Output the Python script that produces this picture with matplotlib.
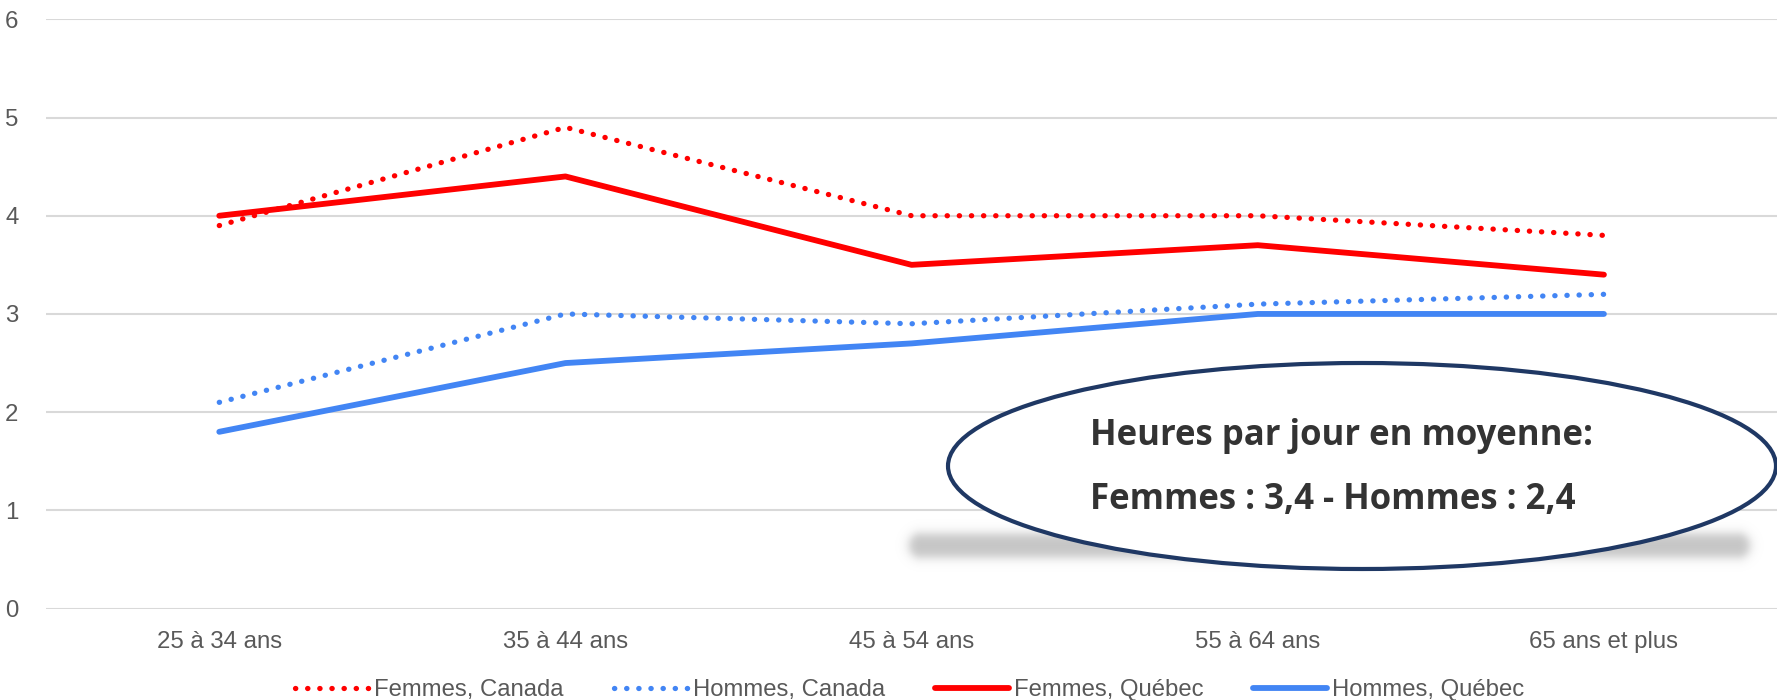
import numpy as np
import matplotlib
matplotlib.use("Agg")
import matplotlib.pyplot as plt
from matplotlib.patches import Ellipse

plt.rcParams['font.family'] = ['Liberation Sans', 'DejaVu Sans']

categories = ["25 à 34 ans", "35 à 44 ans", "45 à 54 ans", "55 à 64 ans", "65 ans et plus"]
femmes_canada = [3.9, 4.9, 4.0, 4.0, 3.8]
hommes_canada = [2.1, 3.0, 2.9, 3.1, 3.2]
femmes_quebec = [4.0, 4.4, 3.5, 3.7, 3.4]
hommes_quebec = [1.8, 2.5, 2.7, 3.0, 3.0]
note_lines = ["Heures par jour en moyenne:", "Femmes : 3,4 - Hommes : 2,4"]

red = "#FF0000"
blue = "#4285F4"
grey_txt = "#595959"

fig = plt.figure(figsize=(17.77, 7.0), dpi=100)
ax = fig.add_axes([0.026, 0.1306, 0.974, 0.8418])

x = np.arange(len(categories))
dots = (0, (0.05, 2.25))
ax.plot(x, femmes_canada, color=red, lw=3.8, ls=dots, dash_capstyle="round", label="Femmes, Canada")
ax.plot(x, hommes_canada, color=blue, lw=3.8, ls=dots, dash_capstyle="round", label="Hommes, Canada")
ax.plot(x, femmes_quebec, color=red, lw=4.2, solid_capstyle="round", label="Femmes, Québec")
ax.plot(x, hommes_quebec, color=blue, lw=4.2, solid_capstyle="round", label="Hommes, Québec")

ax.set_xlim(-0.5, len(categories) - 0.5)
ax.set_ylim(0, 6)
ax.set_yticks(range(0, 7))
ax.set_xticks(x)
ax.set_xticklabels(categories)
ax.grid(axis="y", color="#D9D9D9", lw=1.5)
ax.set_axisbelow(True)
for s in ax.spines.values():
    s.set_visible(False)
ax.tick_params(axis="both", length=0, labelsize=17.3, labelcolor=grey_txt)
ax.tick_params(axis="x", pad=16)
ax.tick_params(axis="y", pad=20)

fig.legend(loc="center", bbox_to_anchor=(0.512, 0.014), ncol=4, frameon=False,
           fontsize=17.2, handlelength=3.1, handletextpad=0.2, columnspacing=2.1,
           labelcolor=grey_txt)

# call-out ellipse on an overlay in pixel coordinates
ov = fig.add_axes([0, 0, 1, 1])
ov.set_xlim(0, 1777)
ov.set_ylim(700, 0)
ov.axis("off")

# soft shadow: blurred flat stadium shape under the ellipse
gx, gy = np.meshgrid(np.arange(860, 1777), np.arange(510, 590))
dx = np.maximum(np.abs(gx - 1329) - 408, 0)
dist = np.sqrt(dx ** 2 + (gy - 545) ** 2) - 12
shadow = np.zeros(gx.shape + (4,))
shadow[..., :3] = 0.55
shadow[..., 3] = 0.5 / (1 + np.exp(dist / 3.0))
ov.imshow(shadow, extent=(860, 1777, 590, 510), aspect="auto", zorder=1, interpolation="bilinear")

ov.add_patch(Ellipse((1362, 466), 828, 206, facecolor="white", edgecolor="#1F3864", lw=3, zorder=2))
ov.text(1090, 436, note_lines[0], family="Open Sans", weight="bold", fontsize=25,
        color="#333333", va="center", ha="left", zorder=3)
ov.text(1090, 500, note_lines[1], family="Open Sans", weight="bold", fontsize=25,
        color="#333333", va="center", ha="left", zorder=3)

fig.savefig("out.png", dpi=100, facecolor="white")
